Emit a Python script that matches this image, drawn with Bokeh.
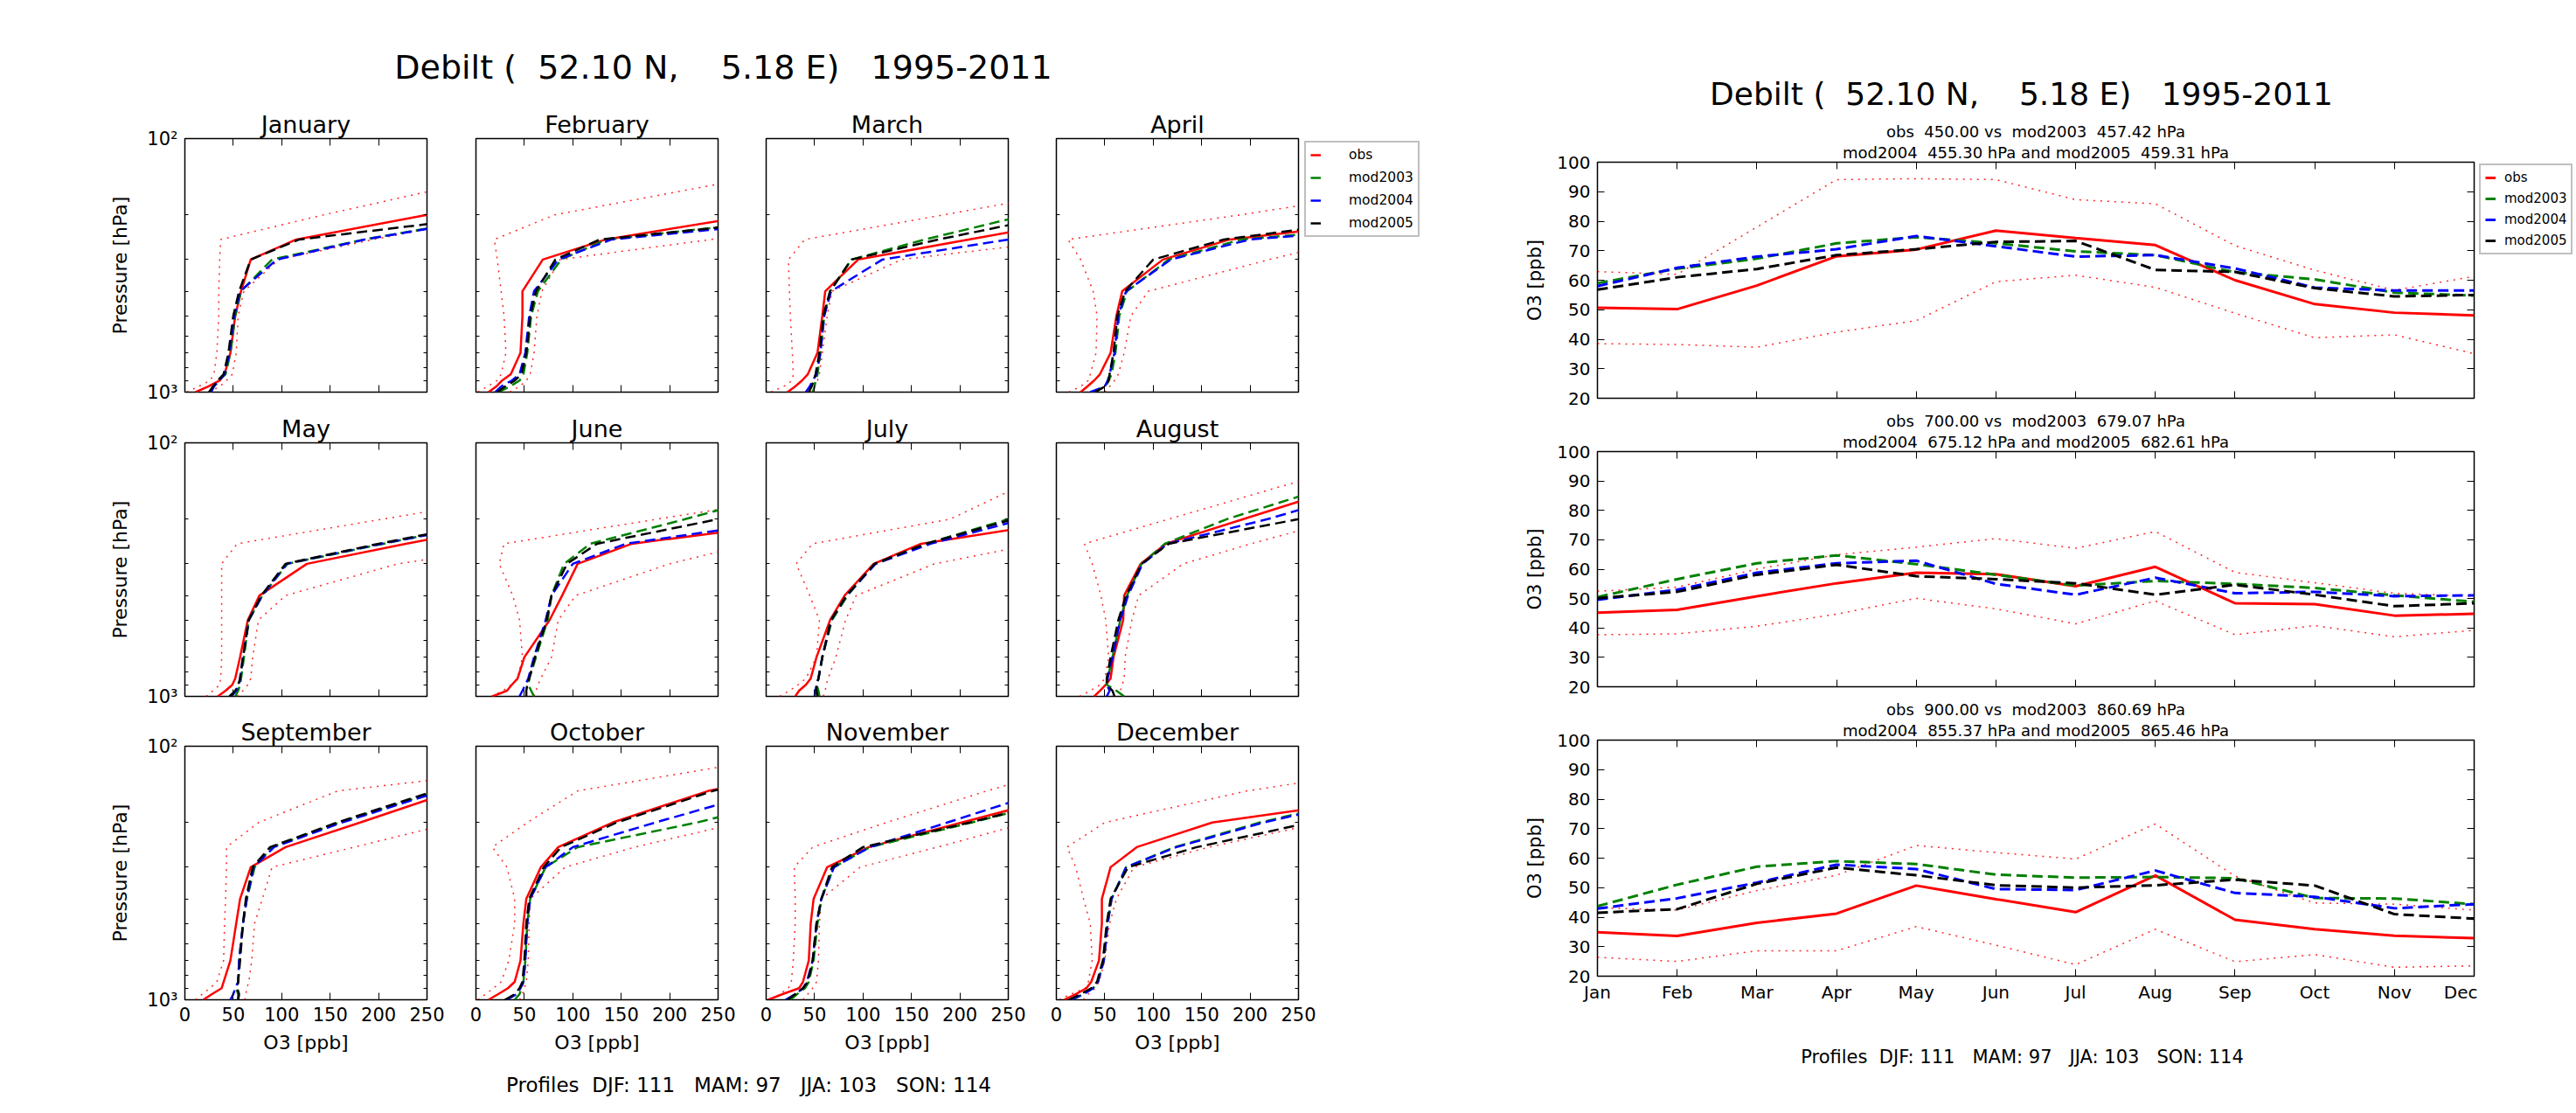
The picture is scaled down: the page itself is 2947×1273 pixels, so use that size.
from bokeh.plotting import figure
from bokeh.models import Range1d, FixedTicker, LinearAxis, LogAxis, Legend, LegendItem, Title, Spacer
from bokeh.layouts import row, column
from bokeh.embed import file_html
from bokeh.resources import INLINE

FONT = "DejaVu Sans"
NB = "\u00a0"
STATION_TITLE = f"Debilt ({NB} 52.10 N,{NB}{NB}{NB} 5.18 E){NB}{NB} 1995-2011"
PROFILE_NOTE = f"Profiles{NB} DJF: 111{NB}{NB} MAM: 97{NB}{NB} JJA: 103{NB}{NB} SON: 114"

month_names = ["January", "February", "March", "April", "May", "June", "July",
               "August", "September", "October", "November", "December"]
month_abbr = ["Jan", "Feb", "Mar", "Apr", "May", "Jun", "Jul", "Aug", "Sep", "Oct", "Nov", "Dec"]
series_labels = ["obs", "mod2003", "mod2004", "mod2005"]

# ---------------- monthly mean profiles (O3 [ppb] at pressure levels [hPa]) ----------------
pressure_levels = [1000, 950, 900, 850, 700, 500, 400, 300, 250, 200, 150, 100]

obs_profile = [
    [11, 24, 36, 41, 47, 52, 58, 68, 115, 250, 420, 650],
    [13, 21, 27, 36, 46, 48, 48, 69, 134, 289, 460, 700],
    [22, 30, 37, 43, 53, 58, 61, 95, 209, 353, 540, 800],
    [25, 32, 39, 45, 56, 62, 68, 110, 179, 400, 700, 1000],
    [34, 42, 49, 52, 57, 65, 77, 126, 228, 361, 550, 800],
    [17, 32, 37, 43, 50, 76, 89, 105, 161, 358, 550, 800],
    [30, 34, 41, 46, 52, 66, 81, 111, 160, 323, 520, 780],
    [39, 45, 51, 56, 59, 69, 70, 87, 113, 193, 296, 450],
    [19, 28, 38, 40, 47, 53, 57, 68, 104, 181, 278, 420],
    [13, 23, 33, 40, 46, 49, 52, 67, 85, 141, 240, 480],
    [2, 17, 34, 38, 44, 46, 49, 63, 106, 202, 326, 500],
    [8, 20, 31, 36, 44, 47, 47, 56, 83, 161, 393, 650],
]
obs_low_profile = [
    [2, 14, 26, 30, 33, 35, 35, 36, 37, 143, 290, 450],
    [2, 12, 22, 26, 31, 29, 26, 22, 19, 81, 255, 420],
    [5, 18, 27, 28, 27, 25, 24, 23, 40, 183, 365, 560],
    [13, 25, 33, 35, 41, 42, 38, 25, 12, 190, 400, 620],
    [22, 29, 36, 37, 38, 38, 38, 38, 54, 204, 400, 600],
    [16, 28, 36, 43, 48, 45, 38, 24, 29, 187, 393, 600],
    [14, 24, 33, 41, 52, 55, 45, 31, 48, 190, 259, 380],
    [24, 35, 45, 50, 54, 51, 46, 37, 29, 116, 228, 400],
    [11, 18, 26, 33, 40, 41, 42, 43, 43, 76, 158, 560],
    [2, 10, 18, 26, 34, 40, 40, 32, 17, 53, 105, 380],
    [5, 14, 23, 26, 28, 30, 30, 29, 48, 124, 228, 390],
    [3, 15, 30, 33, 37, 35, 28, 20, 11, 50, 197, 500],
]
obs_high_profile = [
    [25, 36, 43, 49, 53, 55, 61, 97, 195, 326, 500, 750],
    [35, 45, 52, 56, 60, 63, 68, 87, 243, 420, 600, 850],
    [45, 50, 53, 55, 58, 63, 68, 140, 316, 530, 800, 1100],
    [50, 55, 60, 64, 70, 77, 95, 220, 305, 520, 800, 1100],
    [54, 60, 65, 68, 70, 76, 104, 220, 357, 560, 850, 1150],
    [60, 62, 64, 67, 78, 85, 103, 200, 284, 450, 700, 1000],
    [59, 61, 62, 64, 72, 82, 93, 174, 279, 450, 700, 1000],
    [69, 66, 68, 70, 71, 78, 85, 131, 201, 294, 420, 600],
    [62, 63, 64, 66, 69, 72, 80, 90, 175, 278, 450, 650],
    [45, 48, 50, 52, 54, 55, 56, 92, 164, 273, 450, 650],
    [38, 43, 48, 52, 54, 55, 57, 97, 177, 270, 420, 620],
    [28, 33, 40, 44, 50, 55, 62, 80, 158, 274, 450, 650],
]
mod2003_profile = [
    [27, 30, 35, 42, 47, 52, 58, 90, 185, 330, 520, 750],
    [23, 35, 45, 49, 53, 57, 64, 88, 135, 366, 560, 800],
    [48, 50, 51, 53, 56, 60, 66, 88, 164, 269, 420, 600],
    [38, 51, 54, 57, 61, 65, 73, 116, 191, 500, 850, 1200],
    [52, 55, 57, 58, 61, 66, 80, 106, 205, 330, 520, 750],
    [60, 57, 54, 55, 62, 74, 78, 91, 118, 216, 336, 500],
    [55, 54, 52, 54, 58, 68, 84, 112, 165, 250, 400, 580],
    [70, 62, 52, 53, 58, 66, 73, 88, 112, 176, 280, 420],
    [55, 55, 53, 55, 56, 60, 64, 72, 90, 159, 262, 400],
    [40, 45, 47, 49, 51, 53, 56, 72, 105, 228, 360, 520],
    [25, 32, 40, 44, 49, 53, 57, 70, 107, 212, 340, 500],
    [16, 28, 38, 43, 49, 53, 57, 72, 122, 210, 350, 520],
]
mod2004_profile = [
    [27, 30, 35, 41, 46, 51, 57, 95, 186, 335, 520, 750],
    [20, 26, 37, 45, 51, 55, 60, 85, 140, 400, 600, 850],
    [41, 45, 48, 52, 56, 60, 67, 120, 250, 400, 600, 850],
    [35, 50, 53, 55, 60, 64, 72, 118, 200, 520, 900, 1250],
    [48, 53, 56, 57, 60, 66, 80, 105, 203, 335, 525, 760],
    [45, 48, 51, 54, 60, 72, 78, 100, 155, 330, 520, 750],
    [50, 51, 52, 54, 58, 67, 83, 113, 170, 265, 420, 600],
    [52, 55, 52, 53, 58, 66, 74, 89, 115, 218, 330, 480],
    [47, 50, 52, 55, 56, 60, 64, 71, 92, 162, 265, 400],
    [32, 42, 46, 49, 51, 53, 56, 72, 100, 185, 300, 450],
    [20, 30, 38, 42, 48, 52, 57, 70, 107, 187, 289, 430],
    [15, 28, 38, 43, 49, 53, 57, 72, 124, 214, 356, 530],
]
mod2005_profile = [
    [25, 29, 34, 40, 45, 50, 56, 68, 118, 330, 520, 750],
    [22, 30, 40, 47, 52, 56, 62, 82, 128, 380, 580, 820],
    [44, 47, 49, 51, 55, 59, 66, 88, 178, 302, 460, 650],
    [40, 50, 54, 55, 59, 63, 71, 100, 173, 367, 600, 850],
    [46, 52, 55, 57, 60, 66, 79, 104, 200, 330, 520, 750],
    [52, 52, 53, 55, 61, 73, 78, 94, 125, 250, 400, 580],
    [53, 52, 52, 54, 58, 67, 83, 112, 165, 255, 400, 580],
    [60, 58, 52, 52, 56, 64, 72, 88, 116, 250, 380, 550],
    [55, 56, 54, 55, 57, 60, 63, 70, 88, 157, 258, 390],
    [30, 40, 45, 48, 50, 52, 55, 70, 88, 145, 245, 420],
    [22, 30, 38, 43, 48, 52, 57, 68, 100, 210, 340, 500],
    [13, 25, 36, 42, 48, 52, 56, 74, 145, 262, 420, 600],
]

# ---------------- seasonal cycle at three levels (O3 [ppb]) ----------------
month_index = list(range(12))

obs_450 = [50.7, 50.2, 58.2, 68.1, 70.4, 76.8, 74.3, 71.9, 60.0, 51.9, 49.0, 48.1]
high_450 = [62.9, 62.0, 78.0, 94.1, 94.4, 94.1, 87.3, 85.9, 71.7, 63.4, 56.6, 61.3]
low_450 = [38.5, 38.2, 37.3, 42.4, 46.3, 59.5, 61.7, 57.6, 48.8, 40.5, 41.5, 35.1]
mod2003_450 = [59.0, 63.9, 67.3, 72.5, 74.6, 72.5, 69.8, 68.5, 62.7, 60.3, 55.8, 54.8]
mod2004_450 = [58.0, 64.2, 68.0, 70.5, 75.0, 71.5, 68.0, 68.5, 64.0, 57.5, 56.5, 56.5]
mod2005_450 = [56.8, 61.0, 63.8, 68.5, 70.5, 73.0, 73.3, 63.5, 62.8, 57.3, 54.5, 55.0]

obs_700 = [45.2, 46.2, 50.8, 55.2, 58.8, 58.3, 54.2, 60.8, 48.4, 48.1, 44.2, 44.8]
high_700 = [52.5, 53.9, 60.0, 64.9, 67.5, 70.4, 67.1, 72.8, 58.9, 55.4, 51.8, 50.8]
low_700 = [37.7, 38.0, 40.6, 44.7, 50.1, 46.5, 41.4, 49.2, 37.7, 40.8, 37.0, 39.2]
mod2003_700 = [50.5, 56.6, 62.0, 64.7, 61.7, 58.1, 54.4, 56.0, 55.0, 53.6, 51.1, 48.9]
mod2004_700 = [49.6, 53.0, 58.8, 62.0, 62.9, 55.0, 51.3, 57.1, 51.8, 52.3, 50.8, 51.1]
mod2005_700 = [50.1, 52.3, 58.1, 61.5, 57.6, 56.6, 55.2, 51.3, 54.7, 51.3, 47.4, 48.4]

obs_900 = [34.9, 33.6, 38.1, 41.2, 50.7, 46.1, 41.7, 54.1, 39.1, 35.9, 33.7, 32.9]
high_900 = [43.2, 42.4, 49.0, 54.2, 64.3, 61.9, 59.7, 71.6, 53.9, 44.8, 44.4, 42.4]
low_900 = [26.4, 25.0, 28.6, 28.6, 36.8, 30.5, 23.9, 35.9, 24.9, 27.3, 23.0, 23.5]
mod2003_900 = [43.7, 51.0, 57.1, 59.0, 58.0, 54.4, 53.4, 53.6, 53.2, 46.5, 46.3, 44.4]
mod2004_900 = [42.9, 46.4, 51.7, 57.8, 56.3, 49.5, 49.2, 55.8, 48.2, 46.9, 43.0, 44.4]
mod2005_900 = [41.5, 42.7, 51.3, 56.8, 54.2, 50.8, 50.0, 50.8, 52.7, 50.7, 41.0, 39.5]

level_titles = [
    (f"obs{NB} 450.00 vs{NB} mod2003{NB} 457.42 hPa", f"mod2004{NB} 455.30 hPa and mod2005{NB} 459.31 hPa"),
    (f"obs{NB} 700.00 vs{NB} mod2003{NB} 679.07 hPa", f"mod2004{NB} 675.12 hPa and mod2005{NB} 682.61 hPa"),
    (f"obs{NB} 900.00 vs{NB} mod2003{NB} 860.69 hPa", f"mod2004{NB} 855.37 hPa and mod2005{NB} 865.46 hPa"),
]

o3_profile_ticks = [0, 50, 100, 150, 200, 250]
pressure_major_ticks = [100, 1000]
pressure_minor_ticks = [200, 300, 400, 500, 600, 700, 800, 900]
o3_cycle_ticks = [20, 30, 40, 50, 60, 70, 80, 90, 100]

# ---------------- styling / layout constants ----------------
RED, GREEN, BLUE, BLACK = "#ff0000", "#008000", "#0000ff", "#000000"
DASH = "12 6"
DOT = "2 6"

COL_LEFT = [211, 29, 28, 28]
COL_RIGHT = [27, 27, 27, 27]
APRIL_RIGHT = 4
ROW_TOP = [47, 44, 42]
ROW_BOTTOM = [15, 15, 72]
PF_W, PF_H = 277, 290
LEFT_BLOCK_W = 1700

R_TOP = [55, 49, 49]
R_BOTTOM = [12, 12, 44]
R_H = [270, 269, 270]
R_W = 1003
R_LEFT, R_RIGHT = 127, 4
RIGHT_BLOCK_W = 1245


def style_axis(ax, px, show_labels):
    ax.axis_line_color = None
    ax.major_tick_in = 8
    ax.major_tick_out = 0
    ax.minor_tick_in = 4
    ax.minor_tick_out = 0
    ax.major_tick_line_color = "black"
    ax.minor_tick_line_color = "black"
    ax.major_label_text_font = FONT
    if show_labels:
        ax.major_label_text_font_size = f"{px}px"
        ax.major_label_text_color = "black"
    else:
        ax.major_label_text_font_size = "1px"
        ax.major_label_text_color = None
        ax.major_label_standoff = 0
    ax.axis_label_text_font = FONT
    ax.axis_label_text_font_style = "normal"
    ax.axis_label_text_color = "black"


def base_style(p):
    p.grid.visible = False
    p.outline_line_color = "black"
    p.outline_line_width = 1.5
    p.background_fill_color = "white"
    p.border_fill_color = "white"


def style_title(t, px, standoff):
    t.align = "center"
    t.text_font = FONT
    t.text_font_size = px
    t.text_font_style = "normal"
    t.text_color = "black"
    t.standoff = standoff


def series_lines(p, xs_list, ys_list, width):
    """Draw obs, obs +/- spread and the three model runs; return legend renderers."""
    (x_obs, x_lo, x_hi, x_03, x_04, x_05) = xs_list
    (y_obs, y_lo, y_hi, y_03, y_04, y_05) = ys_list
    r_obs = p.line(x_obs, y_obs, line_color=RED, line_width=width)
    p.line(x_lo, y_lo, line_color=RED, line_width=1.5, line_dash=DOT, line_alpha=0.85)
    p.line(x_hi, y_hi, line_color=RED, line_width=1.5, line_dash=DOT, line_alpha=0.85)
    r03 = p.line(x_03, y_03, line_color=GREEN, line_width=width, line_dash=DASH)
    r04 = p.line(x_04, y_04, line_color=BLUE, line_width=width, line_dash=DASH)
    r05 = p.line(x_05, y_05, line_color=BLACK, line_width=width, line_dash=DASH)
    return [r_obs, r03, r04, r05]


def legend_fig(width, height, top, xs, ys, line_w, font_px, spacing, standoff, margin):
    """A frame-only figure that carries the legend beside a panel; its lines fall
    outside its (0, 1) ranges so only the legend is visible."""
    p = figure(width=width, height=height, x_axis_location=None, y_axis_location=None,
               x_range=Range1d(0, 1), y_range=Range1d(0, 1),
               output_backend="svg", toolbar_location=None,
               min_border_top=top, min_border_left=0, min_border_right=0, min_border_bottom=0)
    p.grid.visible = False
    p.outline_line_color = None
    rends = series_lines(p, xs, ys, line_w)
    items = [LegendItem(label=lab, renderers=[rr]) for lab, rr in zip(series_labels, rends)]
    lg = Legend(items=items, location="top_left")
    lg.label_text_font = FONT
    lg.label_text_font_size = font_px
    lg.label_text_color = "black"
    lg.glyph_width = 12
    lg.glyph_height = 18
    lg.label_height = 18
    lg.spacing = spacing
    lg.padding = 5
    lg.margin = margin
    lg.label_standoff = standoff
    lg.border_line_color = "#808080"
    lg.border_line_width = 2
    lg.background_fill_color = "white"
    lg.background_fill_alpha = 1.0
    p.add_layout(lg)
    return p


def profile_series(idx):
    xs = (obs_profile[idx], obs_low_profile[idx], obs_high_profile[idx],
          mod2003_profile[idx], mod2004_profile[idx], mod2005_profile[idx])
    return xs, (pressure_levels,) * 6


def make_profile(idx):
    r, c = divmod(idx, 4)
    right_border = APRIL_RIGHT if idx == 3 else COL_RIGHT[c]
    p = figure(frame_width=PF_W, frame_height=PF_H,
               x_range=Range1d(0, 250), y_range=Range1d(1000, 100), y_axis_type="log",
               output_backend="svg", toolbar_location=None,
               min_border_left=COL_LEFT[c], min_border_right=right_border,
               min_border_top=ROW_TOP[r], min_border_bottom=ROW_BOTTOM[r])
    base_style(p)
    p.title.text = month_names[idx]
    style_title(p.title, "27px", 2)

    xa = p.xaxis[0]
    xa.ticker = FixedTicker(ticks=o3_profile_ticks)
    style_axis(xa, 21, r == 2)
    if r == 2:
        xa.axis_label = "O3 [ppb]"
        xa.axis_label_text_font_size = "22px"
        xa.major_label_standoff = 8
        xa.axis_label_standoff = 9

    ya = p.yaxis[0]
    ya.ticker = FixedTicker(ticks=pressure_major_ticks, minor_ticks=pressure_minor_ticks)
    style_axis(ya, 21, c == 0)
    if c == 0:
        ya.major_label_overrides = {100: "10²", 1000: "10³"}
        ya.axis_label = "Pressure [hPa]"
        ya.axis_label_text_font_size = "22px"
        ya.major_label_standoff = 8
        ya.axis_label_standoff = 15

    right = LogAxis(ticker=FixedTicker(ticks=pressure_major_ticks, minor_ticks=pressure_minor_ticks))
    style_axis(right, 21, False)
    p.add_layout(right, "right")
    top = LinearAxis(ticker=FixedTicker(ticks=o3_profile_ticks))
    style_axis(top, 21, False)
    p.add_layout(top, "above")

    xs, ys = profile_series(idx)
    series_lines(p, xs, ys, 2.5)
    return p


cycle_data = [
    (obs_450, low_450, high_450, mod2003_450, mod2004_450, mod2005_450),
    (obs_700, low_700, high_700, mod2003_700, mod2004_700, mod2005_700),
    (obs_900, low_900, high_900, mod2003_900, mod2004_900, mod2005_900),
]


def make_cycle(k):
    p = figure(frame_width=R_W, frame_height=R_H[k],
               x_range=Range1d(0, 11), y_range=Range1d(20, 100),
               output_backend="svg", toolbar_location=None,
               min_border_left=R_LEFT, min_border_right=R_RIGHT,
               min_border_top=R_TOP[k], min_border_bottom=R_BOTTOM[k])
    base_style(p)
    line1, line2 = level_titles[k]

    xa = p.xaxis[0]
    xa.ticker = FixedTicker(ticks=month_index)
    style_axis(xa, 20, k == 2)
    if k == 2:
        xa.major_label_overrides = {i: m for i, m in zip(month_index, month_abbr)}
        xa.major_label_standoff = 6

    ya = p.yaxis[0]
    ya.ticker = FixedTicker(ticks=o3_cycle_ticks)
    style_axis(ya, 20, True)
    ya.major_label_standoff = 8
    ya.axis_label = "O3 [ppb]"
    ya.axis_label_text_font_size = "21px"
    ya.axis_label_standoff = 10

    right = LinearAxis(ticker=FixedTicker(ticks=o3_cycle_ticks))
    style_axis(right, 20, False)
    p.add_layout(right, "right")
    top = LinearAxis(ticker=FixedTicker(ticks=month_index))
    style_axis(top, 20, False)
    p.add_layout(top, "above")

    sub = Title(text=line2)
    style_title(sub, "18px", 2)
    p.add_layout(sub, "above")
    p.title.text = line1
    style_title(p.title, "18px", 0)

    series_lines(p, (month_index,) * 6, cycle_data[k], 3)
    return p


def text_fig(text, width, height, font_px, top, standoff):
    p = figure(width=width, height=height, x_axis_location=None, y_axis_location=None,
               x_range=Range1d(0, 1), y_range=Range1d(0, 1),
               output_backend="svg", toolbar_location=None,
               min_border_top=top, min_border_left=0, min_border_right=0, min_border_bottom=0)
    p.grid.visible = False
    p.outline_line_color = None
    p.title.text = text
    style_title(p.title, font_px, standoff)
    return p


profiles = [make_profile(i) for i in range(12)]
row0_h = ROW_TOP[0] + PF_H + ROW_BOTTOM[0]
row0_w = sum(COL_LEFT) + 4 * PF_W + sum(COL_RIGHT[:3]) + APRIL_RIGHT
april_xs, april_ys = profile_series(3)
left_legend = legend_fig(LEFT_BLOCK_W - row0_w, row0_h, 48, april_xs, april_ys, 2.5,
                         "15.5px", 8, 32, 3)


def pad_row(figs):
    w = sum(COL_LEFT) + 4 * PF_W + sum(COL_RIGHT)
    return row(*figs, Spacer(width=LEFT_BLOCK_W - w, height=10))


left_block = column(
    row(text_fig(STATION_TITLE, 1654, 110, "38px", 100, 3)),
    row(*profiles[0:4], left_legend),
    pad_row(profiles[4:8]),
    pad_row(profiles[8:12]),
    row(Spacer(width=12, height=55), text_fig(PROFILE_NOTE, 1688, 55, "23px", 40, 4)),
)

cyc = [make_cycle(k) for k in range(3)]
fig1_w = R_LEFT + R_W + R_RIGHT
fig1_h = R_TOP[0] + R_H[0] + R_BOTTOM[0]
right_legend = legend_fig(RIGHT_BLOCK_W - fig1_w, fig1_h, 55, (month_index,) * 6, cycle_data[0], 3,
                          "15px", 6, 10, 2)

right_block = column(
    row(text_fig(STATION_TITLE, 1224, 130, "36px", 127, 0)),
    row(cyc[0], right_legend),
    row(cyc[1]),
    row(cyc[2]),
    row(text_fig(PROFILE_NOTE, 1226, 110, "21px", 62, 4)),
)
layout = row(left_block, right_block)

open("out.html", "w").write(file_html(layout, INLINE))
